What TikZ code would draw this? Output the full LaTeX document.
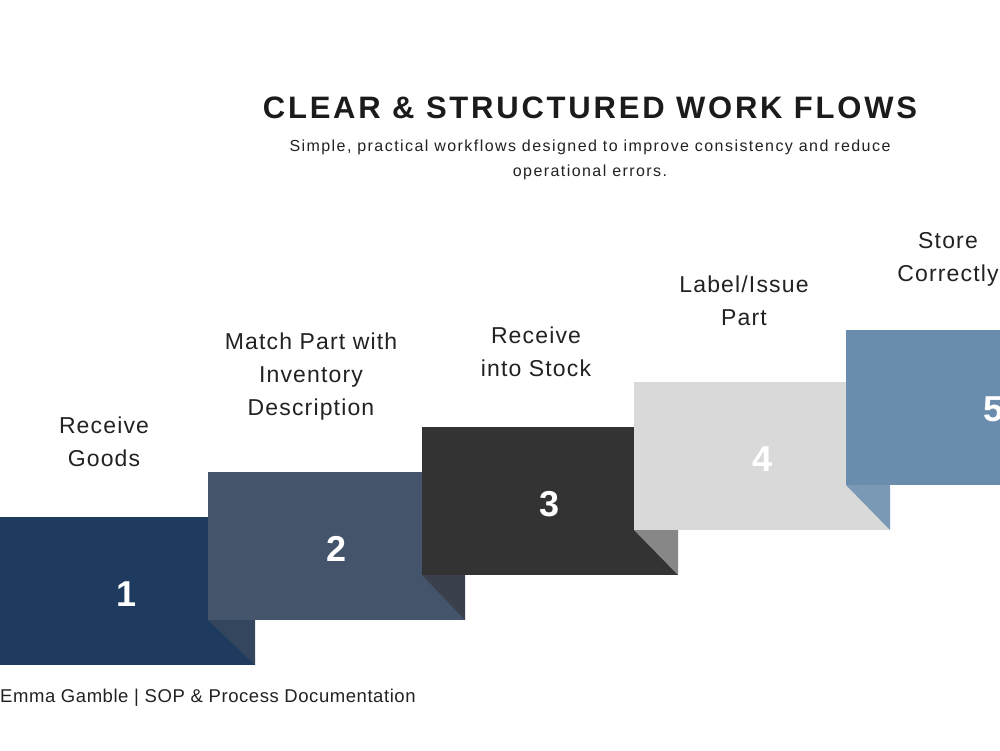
\documentclass[tikz,border=0pt]{standalone}
\usepackage{fontspec}
\setmainfont{Liberation Sans}
\newfontfamily\titlefont{Liberation Sans}[LetterSpace=9]
\newfontfamily\subfont{Liberation Sans}[LetterSpace=9]
\newfontfamily\labfont{Liberation Sans}[LetterSpace=5]
\newfontfamily\footfont{Liberation Sans}[LetterSpace=3]
\definecolor{sa}{HTML}{1F3A5F}
\definecolor{fa}{HTML}{34465E}
\definecolor{sb}{HTML}{44546A}
\definecolor{fb}{HTML}{3A414D}
\definecolor{sc}{HTML}{333333}
\definecolor{fc}{HTML}{878787}
\definecolor{sd}{HTML}{D9D9D9}
\definecolor{fd}{HTML}{7A99B4}
\definecolor{se}{HTML}{6A8CAD}
\definecolor{ink}{HTML}{222222}
\tikzset{
  numtxt/.style={anchor=base, inner sep=0pt, text=white, font=\fontsize{36}{40}\selectfont\bfseries},
  labtxt/.style={anchor=base, inner sep=0pt, text=ink, align=center, font=\labfont\fontsize{23}{33}\selectfont},
}
\begin{document}
\begin{tikzpicture}[x=1pt,y=-1pt]
\useasboundingbox (0,0) rectangle (1000,751);
\fill[white] (0,0) rectangle (1000,751);
\begin{scope}
\clip (0,0) rectangle (1000,751);
% step 1
\fill[sa] (-2,517) rectangle (255,665);
\fill[fa] (208,620) -- (255,620) -- (255,665) -- cycle;
% step 2
\fill[sb] (208,472) rectangle (465,620);
\fill[fb] (422,575) -- (465,575) -- (465,620) -- cycle;
% step 3
\fill[sc] (422,427) rectangle (678,575);
\fill[fc] (634,530) -- (678,530) -- (678,575) -- cycle;
% step 4
\fill[sd] (634,382) rectangle (890,530);
\fill[fd] (846,485) -- (890,485) -- (890,530) -- cycle;
% step 5
\fill[se] (846,330) rectangle (1120,485);
\node[numtxt] (n5) at (993,421) {5};
\end{scope}
\node[numtxt] (n1) at (127,606) {1};
\node[numtxt] (n2) at (337,561) {2};
\node[numtxt] (n3) at (550,516) {3};
\node[numtxt] (n4) at (762,471) {4};

% anchor=base is the baseline of the last line
\node[labtxt] (l1) at (104,466) {Receive\\Goods};
\node[labtxt] (l2) at (311,415) {Match Part with\\Inventory\\Description};
\node[labtxt] (l3) at (536,376) {Receive\\into Stock};
\node[labtxt] (l4) at (744,325) {Label/Issue\\Part};
\node[labtxt] (l5) at (948,281) {Store\\Correctly};

\node[anchor=base, inner sep=0pt, text=ink!80!black, font=\titlefont\fontsize{31}{36}\selectfont\bfseries] (title) at (590,119) {CLEAR \& STRUCTURED WORK FLOWS};
\node[anchor=base, inner sep=0pt, text=ink, align=center, font=\subfont\fontsize{16}{25}\selectfont] (sub) at (590,177) {Simple, practical workflows designed to improve consistency and reduce\\operational errors.};
\node[anchor=base west, inner sep=0pt, text=ink, font=\footfont\fontsize{18.5}{22}\selectfont] (foot) at (0,702) {Emma Gamble | SOP \& Process Documentation};
\end{tikzpicture}
\end{document}
